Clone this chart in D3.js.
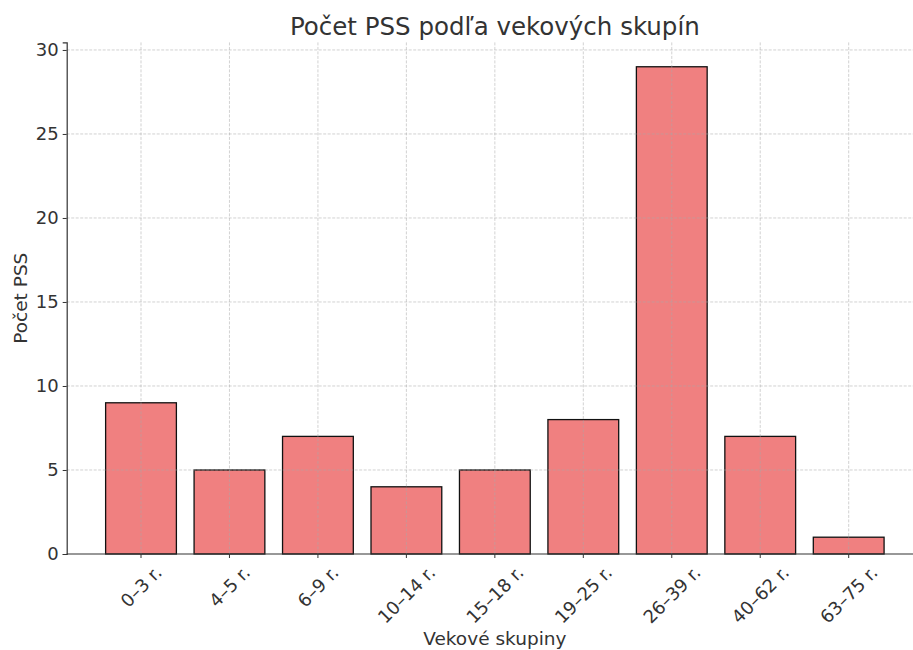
<!DOCTYPE html>
<html>
<head>
<meta charset="utf-8">
<script src="https://cdn.jsdelivr.net/npm/d3@7"></script>
<style>
  body { margin: 0; background: #fff; }
  text { font-family: "DejaVu Sans", sans-serif; fill: #333; }
</style>
</head>
<body>
<svg width="913" height="650"></svg>
<script>
// Data
const categories = ["0–3 r.", "4–5 r.", "6–9 r.", "10–14 r.", "15–18 r.", "19–25 r.", "26–39 r.", "40–62 r.", "63–75 r."];
const counts = [9, 5, 7, 4, 5, 8, 29, 7, 1];
const yTicks = [0, 5, 10, 15, 20, 25, 30];

const svg = d3.select("svg");

// axes box (right side runs off the picture, like the original)
const plotLeft = 66.7, plotRight = 923, plotTop = 42.4, plotBottom = 554;

// index based x so bars sit like matplotlib's default margins
const x = d3.scaleLinear()
    .domain([-0.84, categories.length - 1 + 0.84])
    .range([plotLeft, plotRight]);
const barW = (x(1) - x(0)) * 0.8;

const y = d3.scaleLinear()
    .domain([0, 30.45])
    .range([plotBottom, plotTop]);

// bars
svg.append("g")
    .selectAll("rect")
    .data(counts)
    .join("rect")
      .attr("x", (d, i) => x(i) - barW / 2)
      .attr("y", d => y(d))
      .attr("width", barW)
      .attr("height", d => plotBottom - y(d))
      .attr("fill", "#F08080")
      .attr("stroke", "#111")
      .attr("stroke-width", 1.3);

// grid on top of the bars, dashed and faint
const grid = svg.append("g")
    .attr("stroke", "#a8a8a8")
    .attr("stroke-opacity", 0.65)
    .attr("stroke-width", 0.8)
    .attr("stroke-dasharray", "3,1.5");

grid.selectAll("line.h")
    .data(yTicks.filter(d => d > 0))
    .join("line")
      .attr("class", "h")
      .attr("x1", plotLeft).attr("x2", plotRight)
      .attr("y1", d => y(d)).attr("y2", d => y(d));

grid.selectAll("line.v")
    .data(categories)
    .join("line")
      .attr("class", "v")
      .attr("x1", (d, i) => x(i)).attr("x2", (d, i) => x(i))
      .attr("y1", plotTop).attr("y2", plotBottom);

// y axis
const yAxis = svg.append("g")
    .attr("transform", `translate(${plotLeft},0)`)
    .call(d3.axisLeft(y).tickValues(yTicks).tickSize(4).tickPadding(4));
yAxis.select(".domain").attr("stroke", "#333").attr("stroke-width", 1.2);
yAxis.selectAll(".tick line").attr("stroke", "#333");
yAxis.selectAll(".tick text")
    .style("font-size", "18px")
    .style("font-family", "DejaVu Sans")
    .attr("fill", "#333");

// bottom spine
svg.append("line")
    .attr("x1", plotLeft).attr("x2", plotRight)
    .attr("y1", plotBottom).attr("y2", plotBottom)
    .attr("stroke", "#333")
    .attr("stroke-width", 1.2);

// x tick marks
svg.append("g")
    .selectAll("line")
    .data(categories)
    .join("line")
      .attr("x1", (d, i) => x(i)).attr("x2", (d, i) => x(i))
      .attr("y1", plotBottom).attr("y2", plotBottom + 4)
      .attr("stroke", "#333");

// rotated x labels, centred under each tick
const xl = svg.append("g")
    .selectAll("text")
    .data(categories)
    .join("text")
      .text(d => d)
      .style("font-size", "18px")
      .attr("text-anchor", "middle")
      .attr("dominant-baseline", "central");

xl.each(function(d, i) {
    const w = this.getComputedTextLength();
    const h = 18 * 0.95;
    const half = (w * Math.SQRT1_2 + h * Math.SQRT1_2) / 2;
    const cx = x(i), cy = plotBottom + 9 + half;
    d3.select(this)
        .attr("x", cx).attr("y", cy)
        .attr("transform", `rotate(-45,${cx},${cy})`);
});

// axis titles
svg.append("text")
    .attr("x", (plotLeft + plotRight) / 2)
    .attr("y", 645)
    .attr("text-anchor", "middle")
    .style("font-size", "18.5px")
    .text("Vekové skupiny");

svg.append("text")
    .attr("transform", `translate(27,${(plotTop + plotBottom) / 2}) rotate(-90)`)
    .attr("text-anchor", "middle")
    .style("font-size", "18.5px")
    .text("Počet PSS");

svg.append("text")
    .attr("x", (plotLeft + plotRight) / 2)
    .attr("y", 35)
    .attr("text-anchor", "middle")
    .style("font-size", "24.5px")
    .text("Počet PSS podľa vekových skupín");
</script>
</body>
</html>
